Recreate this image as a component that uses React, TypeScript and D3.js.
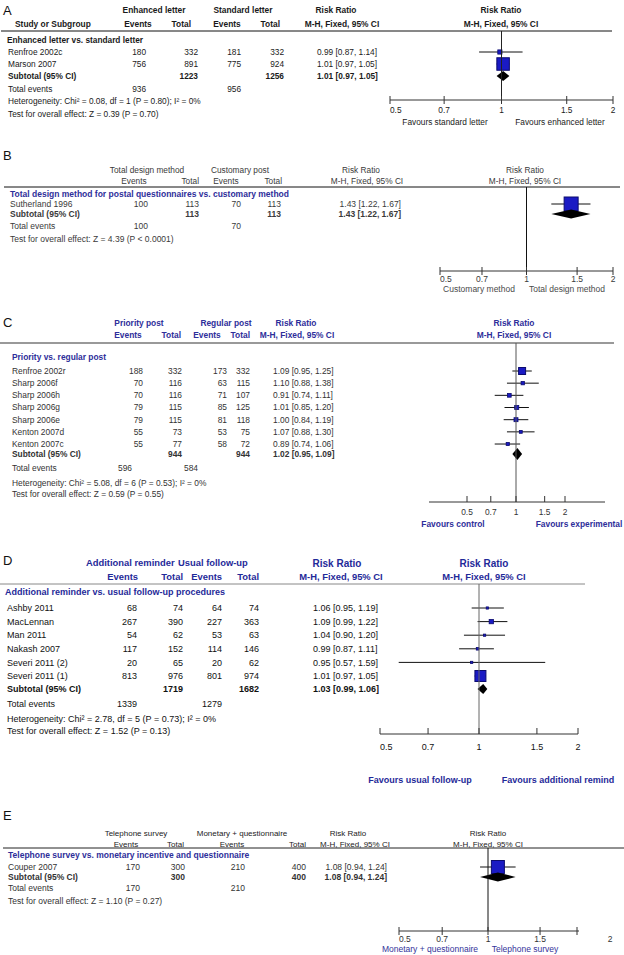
import React from 'react'
import * as d3 from 'd3'

// shared
const ticks = [0.5, 0.7, 1, 1.5, 2]
const tickLabels = ['0.5', '0.7', '1', '1.5', '2']
const letters = ['A', 'B', 'C', 'D', 'E']

// A: enhanced vs standard letter
const studiesA = ['Renfroe 2002c', 'Marson 2007']
const evExpA = [180, 756]
const totExpA = [332, 891]
const evCtlA = [181, 775]
const totCtlA = [332, 924]
const rrA = [0.99, 1.01]
const loA = [0.87, 0.97]
const hiA = [1.14, 1.05]
const wA = [19, 81]
const subA = [1.01, 0.97, 1.05]
const subTotA = [1223, 1256]
const evSumA = [936, 956]
const groupsA = ['Enhanced letter', 'Standard letter']
const favA = ['Favours standard letter', 'Favours enhanced letter']
const secA = 'Enhanced letter vs. standard letter'
const hetA = 'Heterogeneity: Chi² = 0.08, df = 1 (P = 0.80); I² = 0%'
const testA = 'Test for overall effect: Z = 0.39 (P = 0.70)'

// B: total design method
const studiesB = ['Sutherland 1996']
const evExpB = [100]
const totExpB = [113]
const evCtlB = [70]
const totCtlB = [113]
const rrB = [1.43]
const loB = [1.22]
const hiB = [1.67]
const wB = [100]
const subB = [1.43, 1.22, 1.67]
const subTotB = [113, 113]
const evSumB = [100, 70]
const groupsB = ['Total design method', 'Customary post']
const favB = ['Customary method', 'Total design method']
const secB = 'Total design method for postal questionnaires vs. customary method'
const testB = 'Test for overall effect: Z = 4.39 (P < 0.0001)'

// C: priority vs regular post
const studiesC = ['Renfroe 2002r', 'Sharp 2006f', 'Sharp 2006h', 'Sharp 2006g', 'Sharp 2006e', 'Kenton 2007d', 'Kenton 2007c']
const evExpC = [188, 70, 70, 79, 79, 55, 55]
const totExpC = [332, 116, 116, 115, 115, 73, 77]
const evCtlC = [173, 63, 71, 85, 81, 53, 58]
const totCtlC = [332, 115, 107, 125, 118, 75, 72]
const rrC = [1.09, 1.10, 0.91, 1.01, 1.00, 1.07, 0.89]
const loC = [0.95, 0.88, 0.74, 0.85, 0.84, 0.88, 0.74]
const hiC = [1.25, 1.38, 1.11, 1.20, 1.19, 1.30, 1.06]
const wC = [29.6, 10.8, 12.7, 14.5, 14.0, 9.1, 10.2]
const subC = [1.02, 0.95, 1.09]
const subTotC = [944, 944]
const evSumC = [596, 584]
const groupsC = ['Priority post', 'Regular post']
const favC = ['Favours control', 'Favours experimental']
const secC = 'Priority vs. regular post'
const hetC = 'Heterogeneity: Chi² = 5.08, df = 6 (P = 0.53); I² = 0%'
const testC = 'Test for overall effect: Z = 0.59 (P = 0.55)'

// D: additional reminder
const studiesD = ['Ashby 2011', 'MacLennan', 'Man 2011', 'Nakash 2007', 'Severi 2011 (2)', 'Severi 2011 (1)']
const evExpD = [68, 267, 54, 117, 20, 813]
const totExpD = [74, 390, 62, 152, 65, 976]
const evCtlD = [64, 227, 53, 114, 20, 801]
const totCtlD = [74, 363, 63, 146, 62, 974]
const rrD = [1.06, 1.09, 1.04, 0.99, 0.95, 1.01]
const loD = [0.95, 0.99, 0.90, 0.87, 0.57, 0.97]
const hiD = [1.19, 1.22, 1.20, 1.11, 1.59, 1.05]
const wD = [5.0, 17.9, 4.1, 8.9, 1.6, 62.5]
const subD = [1.03, 0.99, 1.06]
const subTotD = [1719, 1682]
const evSumD = [1339, 1279]
const groupsD = ['Additional reminder', 'Usual follow-up']
const favD = ['Favours usual follow-up', 'Favours additional remind']
const secD = 'Additional reminder  vs. usual follow-up procedures'
const hetD = 'Heterogeneity: Chi² = 2.78, df = 5 (P = 0.73); I² = 0%'
const testD = 'Test for overall effect: Z = 1.52 (P = 0.13)'

// E: telephone survey
const studiesE = ['Couper 2007']
const evExpE = [170]
const totExpE = [300]
const evCtlE = [210]
const totCtlE = [400]
const rrE = [1.08]
const loE = [0.94]
const hiE = [1.24]
const wE = [100]
const subE = [1.08, 0.94, 1.24]
const subTotE = [300, 400]
const evSumE = [170, 210]
const groupsE = ['Telephone survey', 'Monetary + questionnaire']
const favE = ['Monetary + questionnaire', 'Telephone survey']
const secE = 'Telephone survey vs. monetary incentive and questionnaire'
const testE = 'Test for overall effect: Z = 1.10 (P = 0.27)'

const FONT = '"Liberation Sans", Arial, sans-serif'
const BLUE = '#2e2e9a'
const fmt = d3.format('.2f')
const ci = (r: number, l: number, h: number) => `${fmt(r)} [${fmt(l)}, ${fmt(h)}]`

const pack = (studies, evE, totE, evC, totC, rr, lo, hi, w, sub, subTot, evSum, groups, fav, sec, het, test) =>
  ({ studies, evE, totE, evC, totC, rr, lo, hi, w, sub, subTot, evSum, groups, fav, sec, het, test })

const panels = [
  {
    d: pack(studiesA, evExpA, totExpA, evCtlA, totCtlA, rrA, loA, hiA, wA, subA, subTotA, evSumA, groupsA, favA, secA, hetA, testA),
    L: {
      letterY: 10, h1Y: 10, h2Y: 24, g1: [154, 'middle'], g2: [243, 'middle'], evH: [[138, 'middle'], [227, 'middle']], totH: [191, 280],
      studyHdr: 15, rrH1: 336, rrH2: 342, plotH: 501, rrX: 317, rrA: 'start', lineY: 31, lineX: [1, 612], lineC: '#111', lineW: 1,
      secX: 7, secY: 40, studyX: 8, row0: 52, step: 12, cols: [146, 198, 241, 284], evSumX: [146, 241],
      subY: 76, totY: 89, hetY: 101, testY: 114,
      ax: [390, 613], axY: 100, ext: [0, 0], tickUp: false, labY: 110, firstStart: true, favY: 122, favX: [445, 560],
      size: 8.3, color: '#1a1a1a', hC: '#1a1a1a', hB: true, hSize: 8.4, secC: '#1a1a1a', favC: '#1a1a1a', favB: false, maxSide: 12.5, dh: 5, vC: '#222'
    }
  },
  {
    d: pack(studiesB, evExpB, totExpB, evCtlB, totCtlB, rrB, loB, hiB, wB, subB, subTotB, evSumB, groupsB, favB, secB, null, testB),
    L: {
      letterY: 155, h1Y: 170, h2Y: 181, g1: [147, 'middle'], g2: [240, 'middle'], evH: [[134, 'middle'], [226, 'middle']], totH: [199, 282],
      studyHdr: null, rrH1: 361, rrH2: 367, plotH: 525, rrX: 401, rrA: 'end', lineY: 187, lineX: [4, 620], lineC: '#111', lineW: 1,
      secX: 10, secY: 194, studyX: 10, row0: 204, step: 10, cols: [148, 199, 241, 281], evSumX: [148, 241],
      subY: 214, totY: 226, hetY: null, testY: 239,
      ax: [440, 613], axY: 271, ext: [0, 0], tickUp: false, labY: 279, firstStart: true, favY: 289, favX: [479, 567],
      size: 8.5, color: '#3a3a3a', hC: '#3a3a3a', hB: false, hSize: 8.3, secC: BLUE, favC: '#4a4a4a', favB: false, maxSide: 14, dh: 4.5, vC: '#111'
    }
  },
  {
    d: pack(studiesC, evExpC, totExpC, evCtlC, totCtlC, rrC, loC, hiC, wC, subC, subTotC, evSumC, groupsC, favC, secC, hetC, testC),
    L: {
      letterY: 322, h1Y: 323, h2Y: 335, g1: [139, 'middle'], g2: [226, 'middle'], evH: [[128, 'middle'], [207, 'middle']], totH: [181, 250],
      studyHdr: null, rrH1: 296, rrH2: 297, plotH: 514, rrX: 273, rrA: 'start', lineY: 343, lineX: [0, 614], lineC: '#777', lineW: 1.5,
      secX: 12, secY: 357, studyX: 12, row0: 371, step: 12.17, cols: [143, 182, 227, 250], evSumX: [132, 198],
      subY: 454, totY: 468, hetY: 483, testY: 494,
      ax: [467, 565], axY: 502, ext: [38, 40], tickUp: true, labY: 512, firstStart: false, favY: 524, favX: [453, 579],
      size: 8.4, color: '#333', hC: BLUE, hB: true, hSize: 8.4, secC: BLUE, favC: BLUE, favB: true, maxSide: 7, dh: 6, vC: '#555'
    }
  },
  {
    d: pack(studiesD, evExpD, totExpD, evCtlD, totCtlD, rrD, loD, hiD, wD, subD, subTotD, evSumD, groupsD, favD, secD, hetD, testD),
    L: {
      letterY: 560, h1Y: 563, h2Y: 577, g1: [86, 'start'], g2: [178, 'start'], evH: [[138, 'end'], [222, 'end']], totH: [183, 259],
      studyHdr: null, rrH1: 337, rrH2: 341, plotH: 484, rrX: 313, rrA: 'start', lineY: 584, lineX: [0, 585], lineC: '#888', lineW: 1,
      secX: 5, secY: 592, studyX: 7, row0: 608, step: 13.6, cols: [137, 183, 222, 259], evSumX: [137, 222],
      subY: 689, totY: 704, hetY: 719, testY: 731,
      ax: [380, 578], axY: 734, ext: [0, 0], tickUp: true, labY: 747, firstStart: true, favY: 780, favX: [420, 558],
      size: 9, color: '#111', hC: '#1f2a99', hB: true, hSize: 9.4, secC: '#1f2a99', favC: '#1f2a99', favB: true, maxSide: 11, dh: 5, vC: '#666'
    }
  },
  {
    d: pack(studiesE, evExpE, totExpE, evCtlE, totCtlE, rrE, loE, hiE, wE, subE, subTotE, evSumE, groupsE, favE, secE, null, testE),
    L: {
      letterY: 815, h1Y: 833, h2Y: 844, g1: [136, 'middle'], g2: [242, 'middle'], evH: [[126, 'middle'], [232, 'middle']], totH: [184, 306],
      studyHdr: null, rrH1: 348, rrH2: 355, plotH: 488, rrX: 387, rrA: 'end', lineY: 848, lineX: [3, 624], lineC: '#222', lineW: 1,
      secX: 8, secY: 855, studyX: 8, row0: 867, step: 10, cols: [140, 185, 245, 306], evSumX: [140, 245],
      subY: 877, totY: 888, hetY: null, testY: 901,
      ax: [399, 577], axY: 931, ext: [0, 2], tickUp: false, labY: 939, firstStart: true, lastLabX: 610, favY: 949, favX: [430, 525],
      size: 8.5, color: '#333', hC: '#222', hB: false, hSize: 8, secC: BLUE, favC: '#33339a', favB: false, maxSide: 13, dh: 4.5, vC: '#111'
    }
  }
]

function T({ x, y, a = 'start', b = false, c = '#222', s = 8, children }: any) {
  return (
    <text x={x} y={y} dy="0.35em" textAnchor={a} fontWeight={b ? 'bold' : 'normal'} fill={c} fontSize={s} fontFamily={FONT}>
      {children}
    </text>
  )
}

function Panel({ d, L, letter }: any) {
  const x = d3.scaleLog().domain([0.5, 2]).range(L.ax)
  const side = d3.scalePow().exponent(0.75).domain([0, d3.max(d.w) as number]).range([0, L.maxSide])
  const rowY = (i: number) => L.row0 + i * L.step
  const base = { s: L.size, c: L.color }
  const hd = { s: L.hSize, c: L.hC, b: L.hB }
  const [sr, sl, sh] = d.sub
  const x1 = x(1)
  const diamond = [[x(sl), L.subY], [x(sr), L.subY - L.dh], [x(sh), L.subY], [x(sr), L.subY + L.dh]]
  return (
    <g>
      <T x={3} y={L.letterY} s={13} c="#111">{letter}</T>
      {/* headers */}
      <T x={L.g1[0]} y={L.h1Y} a={L.g1[1]} {...hd}>{d.groups[0]}</T>
      <T x={L.g2[0]} y={L.h1Y} a={L.g2[1]} {...hd}>{d.groups[1]}</T>
      <T x={L.rrH1} y={L.h1Y} a="middle" {...hd} s={letter === 'D' ? 10 : L.hSize}>Risk Ratio</T>
      <T x={L.plotH} y={L.h1Y} a="middle" {...hd} s={letter === 'D' ? 10 : L.hSize}>Risk Ratio</T>
      {L.studyHdr != null && <T x={L.studyHdr} y={L.h2Y} {...hd}>Study or Subgroup</T>}
      {L.evH.map((e: any, i: number) => <T key={'e' + i} x={e[0]} y={L.h2Y} a={e[1]} {...hd}>Events</T>)}
      {L.totH.map((t: number, i: number) => <T key={'t' + i} x={t} y={L.h2Y} a="end" {...hd}>Total</T>)}
      <T x={L.rrH2} y={L.h2Y} a="middle" {...hd}>M-H, Fixed, 95% CI</T>
      <T x={L.plotH} y={L.h2Y} a="middle" {...hd}>M-H, Fixed, 95% CI</T>
      <line x1={L.lineX[0]} x2={L.lineX[1]} y1={L.lineY} y2={L.lineY} stroke={L.lineC} strokeWidth={L.lineW} />
      <T x={L.secX} y={L.secY} b c={L.secC} s={L.size}>{d.sec}</T>
      {/* study rows */}
      {d.studies.map((st: string, i: number) => {
        const y = rowY(i)
        const sd = Math.max(2.2, side(d.w[i]))
        return (
          <g key={st}>
            <T x={L.studyX} y={y} {...base}>{st}</T>
            <T x={L.cols[0]} y={y} a="end" {...base}>{d.evE[i]}</T>
            <T x={L.cols[1]} y={y} a="end" {...base}>{d.totE[i]}</T>
            <T x={L.cols[2]} y={y} a="end" {...base}>{d.evC[i]}</T>
            <T x={L.cols[3]} y={y} a="end" {...base}>{d.totC[i]}</T>
            <T x={L.rrX} y={y} a={L.rrA} {...base}>{ci(d.rr[i], d.lo[i], d.hi[i])}</T>
            <line x1={x(d.lo[i])} x2={x(d.hi[i])} y1={y} y2={y} stroke="#111" strokeWidth={1} />
            <rect x={x(d.rr[i]) - sd / 2} y={y - sd / 2} width={sd} height={sd} fill="#1a1ac4" stroke="#0b0b6e" strokeWidth={sd > 5 ? 1 : 0.8} />
          </g>
        )
      })}
      {/* subtotal */}
      <T x={L.studyX} y={L.subY} b {...base}>Subtotal (95% CI)</T>
      <T x={L.cols[1]} y={L.subY} a="end" b {...base}>{d.subTot[0]}</T>
      <T x={L.cols[3]} y={L.subY} a="end" b {...base}>{d.subTot[1]}</T>
      <T x={L.rrX} y={L.subY} a={L.rrA} b {...base}>{ci(sr, sl, sh)}</T>
      <polygon points={diamond.map(p => p.join(',')).join(' ')} fill="#000" />
      <T x={L.studyX} y={L.totY} {...base}>Total events</T>
      <T x={L.evSumX[0]} y={L.totY} a="end" {...base}>{d.evSum[0]}</T>
      <T x={L.evSumX[1]} y={L.totY} a="end" {...base}>{d.evSum[1]}</T>
      {d.het && <T x={L.studyX} y={L.hetY} {...base}>{d.het}</T>}
      <T x={L.studyX} y={L.testY} {...base}>{d.test}</T>
      {/* plot */}
      <line x1={x1} x2={x1} y1={L.lineY} y2={L.axY} stroke={L.vC} strokeWidth={1} />
      <line x1={L.ax[0] - L.ext[0]} x2={L.ax[1] + L.ext[1]} y1={L.axY} y2={L.axY} stroke="#333" strokeWidth={1} />
      {ticks.map((t, i) => (
        <g key={t}>
          <line x1={x(t)} x2={x(t)} y1={L.tickUp ? L.axY - 6 : L.axY - 4} y2={L.tickUp ? L.axY : L.axY + 4} stroke="#333" strokeWidth={1} />
          <T
            x={i === ticks.length - 1 && L.lastLabX ? L.lastLabX : x(t)}
            y={L.labY}
            a={i === 0 && L.firstStart ? 'start' : 'middle'}
            {...base}
          >{tickLabels[i]}</T>
        </g>
      ))}
      <T x={L.favX[0]} y={L.favY} a="middle" c={L.favC} b={L.favB} s={L.size}>{d.fav[0]}</T>
      <T x={L.favX[1]} y={L.favY} a="middle" c={L.favC} b={L.favB} s={L.size}>{d.fav[1]}</T>
    </g>
  )
}

export default function App() {
  return (
    <svg width={624} height={955} viewBox="0 0 624 955" style={{ position: 'absolute', left: 0, top: 0, background: '#fff' }}>
      <rect width={624} height={955} fill="#fff" />
      {panels.map((p, i) => <Panel key={i} d={p.d} L={p.L} letter={letters[i]} />)}
    </svg>
  )
}
